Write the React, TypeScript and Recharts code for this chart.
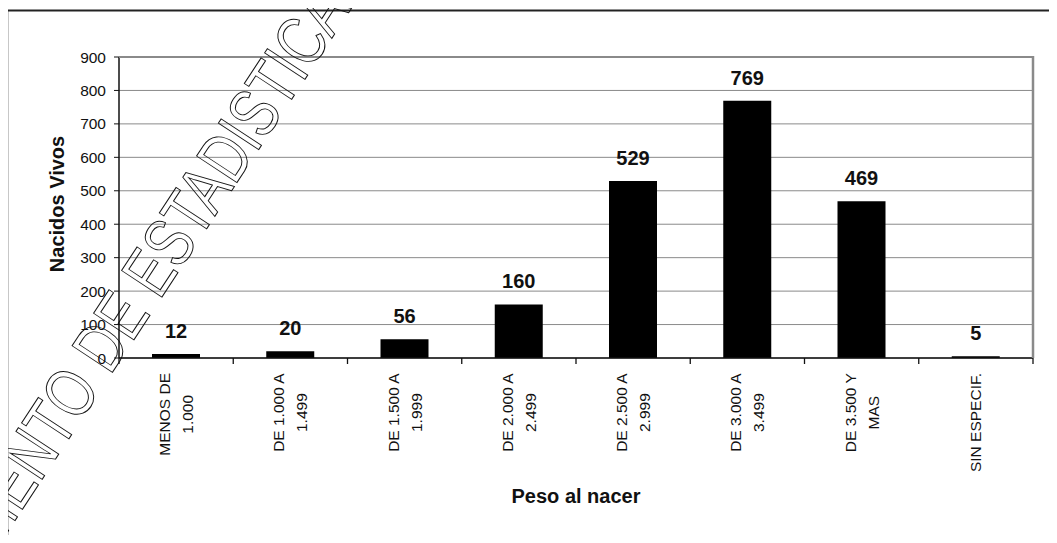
import { BarChart, Bar, XAxis, YAxis, CartesianGrid, LabelList, Label } from 'recharts';

const categories = [
  'MENOS DE\n1.000',
  'DE 1.000 A\n1.499',
  'DE 1.500 A\n1.999',
  'DE 2.000 A\n2.499',
  'DE 2.500 A\n2.999',
  'DE 3.000 A\n3.499',
  'DE 3.500 Y\nMAS',
  'SIN ESPECIF.',
];
const nacidos = [12, 20, 56, 160, 529, 769, 469, 5];
const yTicks = [0, 100, 200, 300, 400, 500, 600, 700, 800, 900];

const data = categories.map((c, i) => ({ name: c, value: nacidos[i] }));

const FONT = '"Liberation Sans", Arial, sans-serif';
const W = 1057;
const H = 543;
const PLOT_LEFT = 119;
const PLOT_RIGHT = 1033;
const PLOT_TOP = 57;
const PLOT_BOTTOM = 358;
const BAND = (PLOT_RIGHT - PLOT_LEFT) / categories.length;

let ctx: CanvasRenderingContext2D | null = null;
function textWidth(s: string) {
  if (!ctx) ctx = document.createElement('canvas').getContext('2d');
  if (!ctx) return s.length * 8;
  ctx.font = `15.5px ${FONT}`;
  return ctx.measureText(s).width;
}

function CategoryTick(props: any) {
  const { x, y, payload, index } = props;
  const lines: string[] = String(payload.value).split('\n');
  const maxW = Math.max(...lines.map(textWidth));
  const cy = y + 15 + maxW / 2;
  const gap = 23;
  const first = x - ((lines.length - 1) * gap) / 2;
  return (
    <g>
      <line x1={x + BAND / 2} x2={x + BAND / 2} y1={y} y2={y + 6} stroke="#111" strokeWidth={1.3} />
      {index === 0 && (
        <line x1={x - BAND / 2} x2={x - BAND / 2} y1={y} y2={y + 6} stroke="#111" strokeWidth={1.3} />
      )}
      {lines.map((l, i) => {
        const cx = first + i * gap;
        return (
          <text
            key={i}
            x={cx}
            y={cy}
            transform={`rotate(-90 ${cx} ${cy})`}
            textAnchor="middle"
            dominantBaseline="central"
            fontSize={15.5}
            fill="#111"
            fontFamily={FONT}
          >
            {l}
          </text>
        );
      })}
    </g>
  );
}

// frame, plot border and the outlined watermark on top of the chart
function Overlay() {
  const px = 110;
  const py = 376;
  const style = { fontSize: 54, fontFamily: FONT, fill: 'none', stroke: '#111', strokeWidth: 0.8 };
  return (
    <svg width={W} height={H} style={{ position: 'absolute', left: 0, top: 0, pointerEvents: 'none' }}>
      <line x1={7} x2={W} y1={10.5} y2={10.5} stroke="#222" strokeWidth={2} />
      <line x1={7.5} x2={7.5} y1={10} y2={H} stroke="#222" strokeWidth={1.5} />
      <line x1={PLOT_LEFT} x2={PLOT_RIGHT} y1={PLOT_TOP} y2={PLOT_TOP} stroke="#8a8a8a" strokeWidth={2} />
      <line x1={PLOT_RIGHT} x2={PLOT_RIGHT} y1={PLOT_TOP - 1} y2={PLOT_BOTTOM} stroke="#8a8a8a" strokeWidth={2.5} />
      <g transform={`rotate(-56.7 ${px} ${py}) translate(${px} ${py}) scale(1 1.3)`}>
        <text x={0} y={0} textAnchor="end" style={style}>
          DEPARTAMENTO{'\u00a0'}
        </text>
        <text x={0} y={0} textAnchor="start" style={style}>
          DE ESTADISTICAS E INFORMACION DE SALUD
        </text>
      </g>
    </svg>
  );
}

export default function App() {
  return (
    <div
      style={{
        position: 'relative',
        width: W,
        height: H,
        margin: -8,
        overflow: 'hidden',
        background: '#fff',
        fontFamily: FONT,
      }}
    >
      <div style={{ position: 'absolute', left: 0, top: 0 }}>
        <BarChart
          width={W}
          height={H}
          data={data}
          margin={{ top: PLOT_TOP, right: W - PLOT_RIGHT, bottom: 0, left: 0 }}
          barSize={48}
        >
          <CartesianGrid vertical={false} stroke="#8a8a8a" strokeWidth={1} />
          <XAxis
            dataKey="name"
            height={H - PLOT_BOTTOM}
            interval={0}
            tickSize={0}
            tickMargin={0}
            tickLine={false}
            axisLine={{ stroke: '#111', strokeWidth: 1.5 }}
            tick={<CategoryTick />}
          >
            <Label
              content={() => (
                <text x={(PLOT_LEFT + PLOT_RIGHT) / 2} y={503} textAnchor="middle" fontSize={20} fontWeight="bold" fill="#111" fontFamily={FONT}>
                  Peso al nacer
                </text>
              )}
            />
          </XAxis>
          <YAxis
            width={PLOT_LEFT}
            domain={[0, 900]}
            ticks={yTicks}
            interval={0}
            tickSize={5}
            tickMargin={8}
            tickLine={{ stroke: '#111' }}
            axisLine={{ stroke: '#111', strokeWidth: 1.5 }}
            tick={{ fontSize: 15.5, fill: '#111', fontFamily: FONT }}
          >
            <Label
              content={() => (
                <text x={57} y={204} transform="rotate(-90 57 204)" textAnchor="middle" dominantBaseline="central" fontSize={20} fontWeight="bold" fill="#111" fontFamily={FONT}>
                  Nacidos Vivos
                </text>
              )}
            />
          </YAxis>
          <Bar dataKey="value" fill="#000" isAnimationActive={false}>
            <LabelList dataKey="value" position="top" offset={16} fontSize={20} fontWeight="bold" fill="#111" fontFamily={FONT} />
          </Bar>
        </BarChart>
      </div>
      <Overlay />
    </div>
  );
}
